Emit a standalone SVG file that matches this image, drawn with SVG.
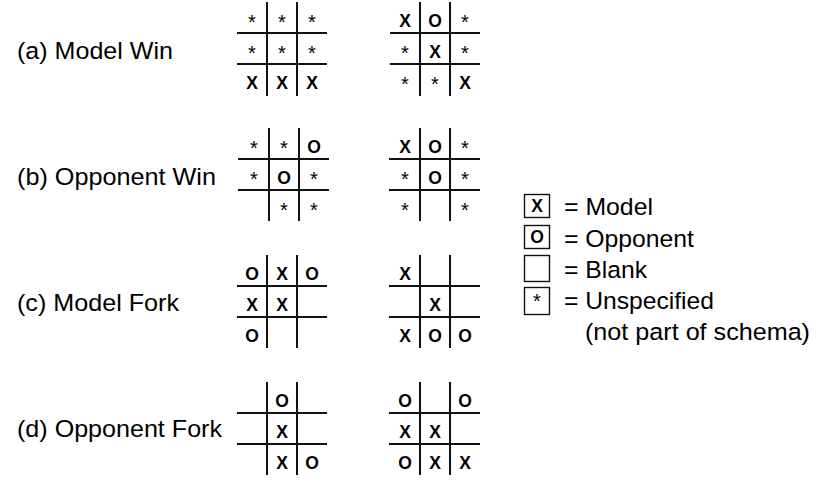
<svg xmlns="http://www.w3.org/2000/svg" width="830" height="485" viewBox="0 0 830 485">
<style>
.lbl{font-family:"Liberation Sans",Arial,sans-serif;font-size:24.5px;fill:#000}
.g line{stroke:#111;stroke-width:2}
.c{font-family:"Liberation Sans",Arial,sans-serif;font-size:17.5px;font-weight:bold;text-anchor:middle;fill:#000}
.s{font-family:"Liberation Sans",Arial,sans-serif;font-size:20px;text-anchor:middle;fill:#000}
.box{fill:none;stroke:#111;stroke-width:1.4}
</style>
<rect width="830" height="485" fill="#fff"/>

<g id="label-a"><text class="lbl" x="17" y="59" textLength="156" lengthAdjust="spacingAndGlyphs">(a) Model Win</text></g>
<g id="label-b"><text class="lbl" x="17" y="185" textLength="199" lengthAdjust="spacingAndGlyphs">(b) Opponent Win</text></g>
<g id="label-c"><text class="lbl" x="17" y="311" textLength="162" lengthAdjust="spacingAndGlyphs">(c) Model Fork</text></g>
<g id="label-d"><text class="lbl" x="17" y="437" textLength="205" lengthAdjust="spacingAndGlyphs">(d) Opponent Fork</text></g>

<!-- (a) board 1 -->
<g id="board-a1" class="g" transform="translate(237,2)">
<line x1="30" y1="0" x2="30" y2="94"/><line x1="60" y1="0" x2="60" y2="94"/>
<line x1="0" y1="31" x2="90" y2="31"/><line x1="0" y1="62" x2="90" y2="62"/>
<text class="s" x="15" y="27">*</text><text class="s" x="45" y="27">*</text><text class="s" x="75" y="27">*</text>
<text class="s" x="15" y="58">*</text><text class="s" x="45" y="58">*</text><text class="s" x="75" y="58">*</text>
<text class="c" x="15" y="87">X</text><text class="c" x="45" y="87">X</text><text class="c" x="75" y="87">X</text>
</g>
<!-- (a) board 2 -->
<g id="board-a2" class="g" transform="translate(390,2)">
<line x1="30" y1="0" x2="30" y2="94"/><line x1="60" y1="0" x2="60" y2="94"/>
<line x1="0" y1="31" x2="90" y2="31"/><line x1="0" y1="62" x2="90" y2="62"/>
<text class="c" x="15" y="25">X</text><text class="c" x="45" y="25">O</text><text class="s" x="75" y="27">*</text>
<text class="s" x="15" y="58">*</text><text class="c" x="45" y="56">X</text><text class="s" x="75" y="58">*</text>
<text class="s" x="15" y="89">*</text><text class="s" x="45" y="89">*</text><text class="c" x="75" y="87">X</text>
</g>

<!-- (b) board 1 -->
<g id="board-b1" class="g" transform="translate(239,128)">
<line x1="30" y1="0" x2="30" y2="93"/><line x1="60" y1="0" x2="60" y2="93"/>
<line x1="-1" y1="31" x2="90" y2="31"/><line x1="-1" y1="62" x2="90" y2="62"/>
<text class="s" x="15" y="27">*</text><text class="s" x="45" y="27">*</text><text class="c" x="75" y="25">O</text>
<text class="s" x="15" y="58">*</text><text class="c" x="45" y="56">O</text><text class="s" x="75" y="58">*</text>
<text class="s" x="45" y="89">*</text><text class="s" x="75" y="89">*</text>
</g>
<!-- (b) board 2 -->
<g id="board-b2" class="g" transform="translate(390,128)">
<line x1="30" y1="0" x2="30" y2="93"/><line x1="60" y1="0" x2="60" y2="93"/>
<line x1="-1" y1="31" x2="90" y2="31"/><line x1="-1" y1="62" x2="90" y2="62"/>
<text class="c" x="15" y="25">X</text><text class="c" x="45" y="25">O</text><text class="s" x="75" y="27">*</text>
<text class="s" x="15" y="58">*</text><text class="c" x="45" y="56">O</text><text class="s" x="75" y="58">*</text>
<text class="s" x="15" y="89">*</text><text class="s" x="75" y="89">*</text>
</g>

<!-- (c) board 1 -->
<g id="board-c1" class="g" transform="translate(237,255)">
<line x1="30" y1="0" x2="30" y2="93"/><line x1="60" y1="0" x2="60" y2="93"/>
<line x1="0" y1="31" x2="90" y2="31"/><line x1="0" y1="62" x2="90" y2="62"/>
<text class="c" x="15" y="25">O</text><text class="c" x="45" y="25">X</text><text class="c" x="75" y="25">O</text>
<text class="c" x="15" y="56">X</text><text class="c" x="45" y="56">X</text>
<text class="c" x="15" y="87">O</text>
</g>
<!-- (c) board 2 -->
<g id="board-c2" class="g" transform="translate(390,255)">
<line x1="30" y1="0" x2="30" y2="93"/><line x1="60" y1="0" x2="60" y2="93"/>
<line x1="-1" y1="31" x2="90" y2="31"/><line x1="-1" y1="62" x2="90" y2="62"/>
<text class="c" x="15" y="25">X</text>
<text class="c" x="45" y="56">X</text>
<text class="c" x="15" y="87">X</text><text class="c" x="45" y="87">O</text><text class="c" x="75" y="87">O</text>
</g>

<!-- (d) board 1 -->
<g id="board-d1" class="g" transform="translate(237,382)">
<line x1="30" y1="0" x2="30" y2="93"/><line x1="60" y1="0" x2="60" y2="93"/>
<line x1="0" y1="31" x2="90" y2="31"/><line x1="0" y1="62" x2="90" y2="62"/>
<text class="c" x="45" y="25">O</text>
<text class="c" x="45" y="56">X</text>
<text class="c" x="45" y="87">X</text><text class="c" x="75" y="87">O</text>
</g>
<!-- (d) board 2 -->
<g id="board-d2" class="g" transform="translate(390,382)">
<line x1="30" y1="0" x2="30" y2="93"/><line x1="60" y1="0" x2="60" y2="93"/>
<line x1="-1" y1="31" x2="90" y2="31"/><line x1="-1" y1="62" x2="90" y2="62"/>
<text class="c" x="15" y="25">O</text><text class="c" x="75" y="25">O</text>
<text class="c" x="15" y="56">X</text><text class="c" x="45" y="56">X</text>
<text class="c" x="15" y="87">O</text><text class="c" x="45" y="87">X</text><text class="c" x="75" y="87">X</text>
</g>

<!-- legend -->
<g id="legend">
<rect class="box" x="524.5" y="194.5" width="25" height="23"/>
<text class="c" x="537" y="212">X</text>
<text class="lbl" x="564" y="215" textLength="89" lengthAdjust="spacingAndGlyphs">= Model</text>
<rect class="box" x="524.5" y="225.5" width="25" height="23"/>
<text class="c" x="537" y="243">O</text>
<text class="lbl" x="564" y="247" textLength="130" lengthAdjust="spacingAndGlyphs">= Opponent</text>
<rect class="box" x="524.5" y="255.5" width="25" height="26"/>
<text class="lbl" x="564" y="278" textLength="83" lengthAdjust="spacingAndGlyphs">= Blank</text>
<rect class="box" x="524.5" y="287.5" width="25" height="27"/>
<text class="s" x="537" y="308">*</text>
<text class="lbl" x="564" y="309" textLength="150" lengthAdjust="spacingAndGlyphs">= Unspecified</text>
<text class="lbl" x="585" y="340" textLength="225" lengthAdjust="spacingAndGlyphs">(not part of schema)</text>
</g>
</svg>
